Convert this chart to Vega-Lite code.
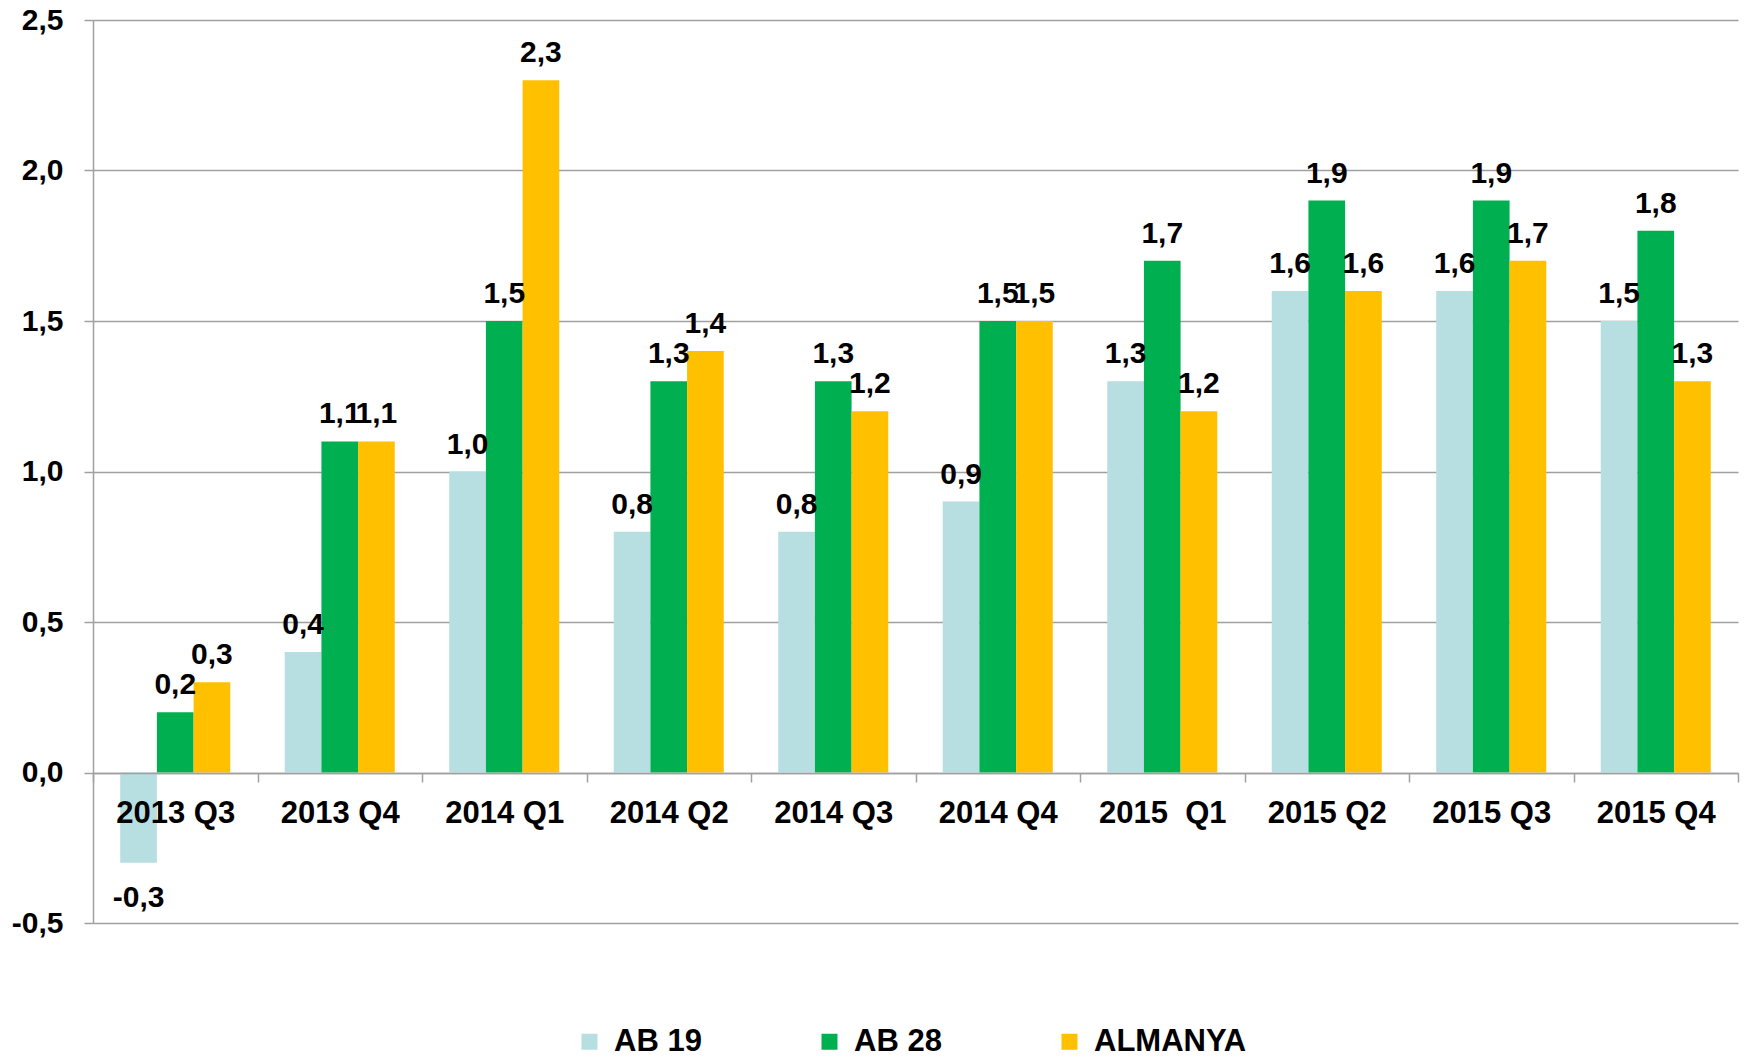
{
  "$schema": "https://vega.github.io/schema/vega-lite/v6.json",
  "autosize": "none",
  "width": 1645,
  "height": 903,
  "padding": {"left": 93, "top": 20, "right": 8, "bottom": 136},
  "background": "white",
  "data": {
    "values": [
      {"quarter": "2013 Q3", "series": "AB 19", "value": -0.3},
      {"quarter": "2013 Q3", "series": "AB 28", "value": 0.2},
      {"quarter": "2013 Q3", "series": "ALMANYA", "value": 0.3},
      {"quarter": "2013 Q4", "series": "AB 19", "value": 0.4},
      {"quarter": "2013 Q4", "series": "AB 28", "value": 1.1},
      {"quarter": "2013 Q4", "series": "ALMANYA", "value": 1.1},
      {"quarter": "2014 Q1", "series": "AB 19", "value": 1.0},
      {"quarter": "2014 Q1", "series": "AB 28", "value": 1.5},
      {"quarter": "2014 Q1", "series": "ALMANYA", "value": 2.3},
      {"quarter": "2014 Q2", "series": "AB 19", "value": 0.8},
      {"quarter": "2014 Q2", "series": "AB 28", "value": 1.3},
      {"quarter": "2014 Q2", "series": "ALMANYA", "value": 1.4},
      {"quarter": "2014 Q3", "series": "AB 19", "value": 0.8},
      {"quarter": "2014 Q3", "series": "AB 28", "value": 1.3},
      {"quarter": "2014 Q3", "series": "ALMANYA", "value": 1.2},
      {"quarter": "2014 Q4", "series": "AB 19", "value": 0.9},
      {"quarter": "2014 Q4", "series": "AB 28", "value": 1.5},
      {"quarter": "2014 Q4", "series": "ALMANYA", "value": 1.5},
      {"quarter": "2015\u00a0\u00a0Q1", "series": "AB 19", "value": 1.3},
      {"quarter": "2015\u00a0\u00a0Q1", "series": "AB 28", "value": 1.7},
      {"quarter": "2015\u00a0\u00a0Q1", "series": "ALMANYA", "value": 1.2},
      {"quarter": "2015 Q2", "series": "AB 19", "value": 1.6},
      {"quarter": "2015 Q2", "series": "AB 28", "value": 1.9},
      {"quarter": "2015 Q2", "series": "ALMANYA", "value": 1.6},
      {"quarter": "2015 Q3", "series": "AB 19", "value": 1.6},
      {"quarter": "2015 Q3", "series": "AB 28", "value": 1.9},
      {"quarter": "2015 Q3", "series": "ALMANYA", "value": 1.7},
      {"quarter": "2015 Q4", "series": "AB 19", "value": 1.5},
      {"quarter": "2015 Q4", "series": "AB 28", "value": 1.8},
      {"quarter": "2015 Q4", "series": "ALMANYA", "value": 1.3}
    ]
  },
  "encoding": {
    "x": {
      "field": "quarter",
      "type": "nominal",
      "sort": null,
      "scale": {"paddingInner": 0, "paddingOuter": 0},
      "axis": {
        "title": null,
        "offset": -150,
        "tickBand": "extent",
        "labelAngle": 0,
        "labelFont": "Liberation Sans",
        "labelFontSize": 31,
        "labelFontWeight": "bold",
        "labelColor": "#000000",
        "labelPadding": 16,
        "tickSize": 9,
        "tickColor": "#a0a0a0",
        "tickWidth": 1.5,
        "domainColor": "#a0a0a0",
        "domainWidth": 1.5,
        "grid": false,
        "zindex": 1
      }
    },
    "xOffset": {
      "field": "series",
      "type": "nominal",
      "scale": {"paddingInner": 0, "paddingOuter": 0.743}
    },
    "y": {
      "field": "value",
      "type": "quantitative",
      "scale": {"domain": [-0.5, 2.5], "nice": false, "zero": false},
      "axis": {
        "title": null,
        "values": [-0.5, 0, 0.5, 1, 1.5, 2, 2.5],
        "format": ".1f",
        "grid": true,
        "gridColor": "#a0a0a0",
        "gridWidth": 1.5,
        "domainColor": "#a0a0a0",
        "domainWidth": 1.5,
        "tickColor": "#a0a0a0",
        "tickWidth": 1.5,
        "tickSize": 9,
        "labelFont": "Liberation Sans",
        "labelFontSize": 30,
        "labelFontWeight": "bold",
        "labelColor": "#000000",
        "labelPadding": 21
      }
    }
  },
  "layer": [
    {
      "mark": {"type": "bar"},
      "encoding": {
        "color": {
          "field": "series",
          "type": "nominal",
          "scale": {"domain": ["AB 19", "AB 28", "ALMANYA"], "range": ["#B7DEE1", "#00B050", "#FFC000"]},
          "legend": {
            "orient": "none",
            "legendX": 481,
            "legendY": 1006,
            "direction": "horizontal",
            "title": null,
            "labelFont": "Liberation Sans",
            "labelFontSize": 31,
            "labelFontWeight": "bold",
            "labelColor": "#000000",
            "symbolType": "square",
            "symbolSize": 256,
            "symbolStrokeWidth": 0,
            "symbolOpacity": 1,
            "columnPadding": 112,
            "labelOffset": 9
          }
        }
      }
    },
    {
      "transform": [{"filter": "datum.value >= 0"}],
      "mark": {"type": "text", "baseline": "alphabetic", "dy": -18, "font": "Liberation Sans", "fontSize": 30, "fontWeight": "bold", "color": "#000000"},
      "encoding": {
        "text": {"field": "value", "type": "quantitative", "format": ".1f"}
      }
    },
    {
      "transform": [{"filter": "datum.value < 0"}],
      "mark": {"type": "text", "baseline": "alphabetic", "dy": 44, "font": "Liberation Sans", "fontSize": 30, "fontWeight": "bold", "color": "#000000"},
      "encoding": {
        "text": {"field": "value", "type": "quantitative", "format": ".1f"}
      }
    }
  ],
  "config": {
    "view": {"stroke": null},
    "font": "Liberation Sans",
    "locale": {
      "number": {"decimal": ",", "thousands": ".", "grouping": [3], "currency": ["", ""], "minus": "-"}
    }
  }
}
